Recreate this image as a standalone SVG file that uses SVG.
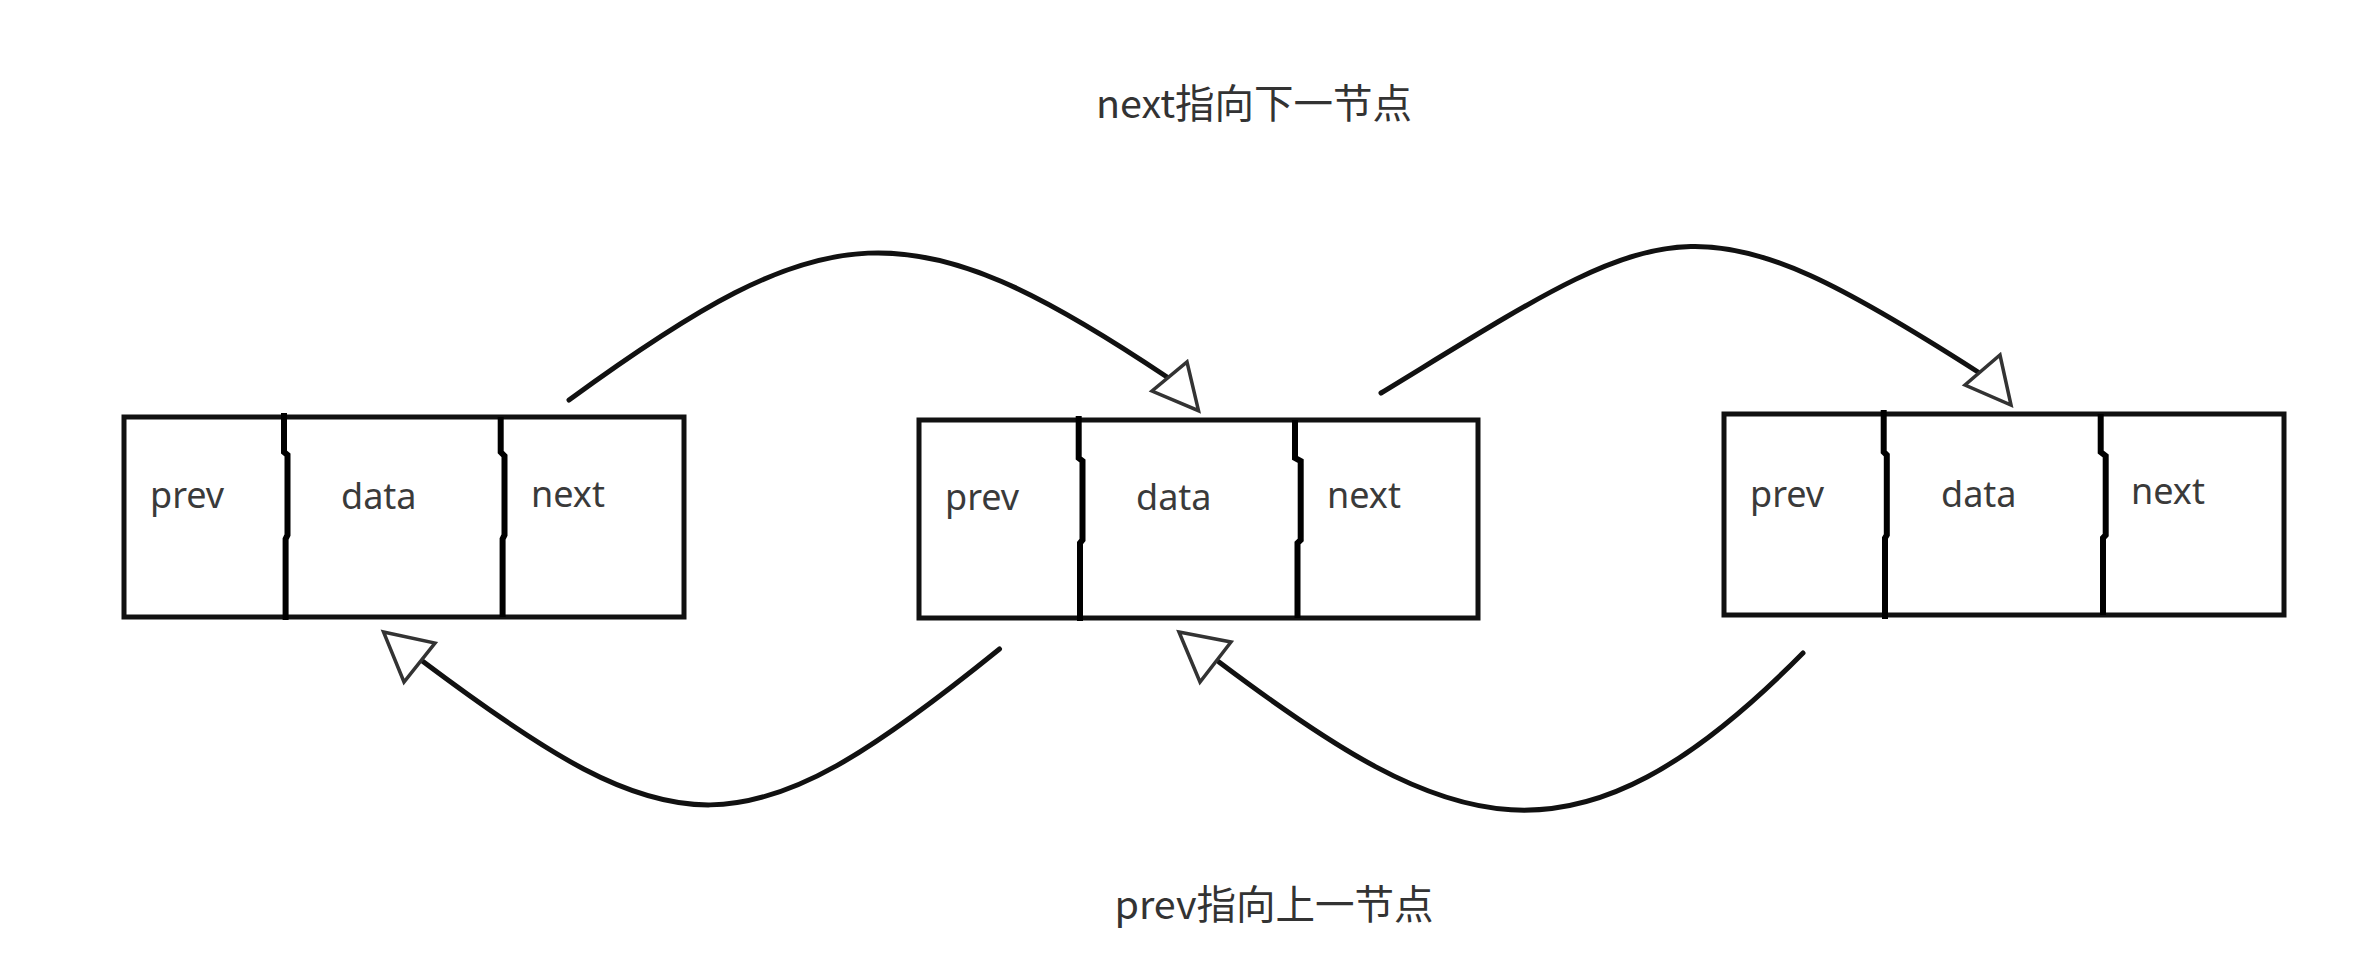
<svg xmlns="http://www.w3.org/2000/svg" width="2362" height="980" viewBox="0 0 2362 980">
<style>
.box{fill:#fff;stroke:#111;stroke-width:5}
.div{fill:none;stroke:#000;stroke-width:6}
.t{font-family:"Noto Sans","Noto Sans CJK SC",sans-serif;font-size:36px;fill:#3a3a3a}
.lbl{font-family:"Noto Sans CJK SC","Noto Sans",sans-serif;font-size:39.5px;fill:#333;text-anchor:middle}
.arc{fill:none;stroke:#111;stroke-width:5;stroke-linecap:round}
.head{fill:#fff;stroke:#333;stroke-width:3.5;stroke-linejoin:miter}
</style>
<rect width="2362" height="980" fill="#fff"/>
<g id="label-next"><text class="lbl" x="1254" y="118">next指向下一节点</text></g>
<g id="label-prev"><text class="lbl" x="1274" y="919">prev指向上一节点</text></g>
<g id="node1">
<rect class="box" x="124" y="417" width="560" height="200"/>
<path class="div" d="M284,413 V452 L287.5,455 V535 L285.6,539 V620"/>
<path class="div" d="M500.7,417 V452 L504.5,456 V535 L502.6,539 V617"/>
<text class="t" x="150" y="508">prev</text>
<text class="t" x="341" y="509">data</text>
<text class="t" x="531" y="507">next</text>
</g>
<g id="node2">
<rect class="box" x="919" y="420" width="559" height="198"/>
<path class="div" d="M1078.7,416 V458 L1082.5,461 V540 L1080,543 V621"/>
<path class="div" d="M1295,420 V458 L1300.7,461 V540 L1297.5,543 V618"/>
<text class="t" x="945" y="510">prev</text>
<text class="t" x="1136" y="510">data</text>
<text class="t" x="1327" y="508">next</text>
</g>
<g id="node3">
<rect class="box" x="1724" y="414" width="560" height="201"/>
<path class="div" d="M1883.7,410 V452 L1886.8,455 V535 L1885,538 V619"/>
<path class="div" d="M2100.7,414 V452 L2105.7,456 V535 L2103,538 V615"/>
<text class="t" x="1750" y="507">prev</text>
<text class="t" x="1941" y="507">data</text>
<text class="t" x="2131" y="504">next</text>
</g>
<g id="connectors">
<path class="arc" d="M569,400 C827,212 909,204 1167,377"/>
<polygon class="head" points="1198.5,410.7 1187,362 1152,391"/>
<path class="arc" d="M1381,393 C1670,217 1689,187 1978,372"/>
<polygon class="head" points="2011,405 2000,355 1965,385"/>
<path class="arc" d="M999.5,649 C742.5,857 678,853 421,660"/>
<polygon class="head" points="383.5,632 435,643 404,682"/>
<path class="arc" d="M1803,653 C1573,886 1449,835 1219,662"/>
<polygon class="head" points="1179,632 1231,642 1200,682"/>
</g>
</svg>
